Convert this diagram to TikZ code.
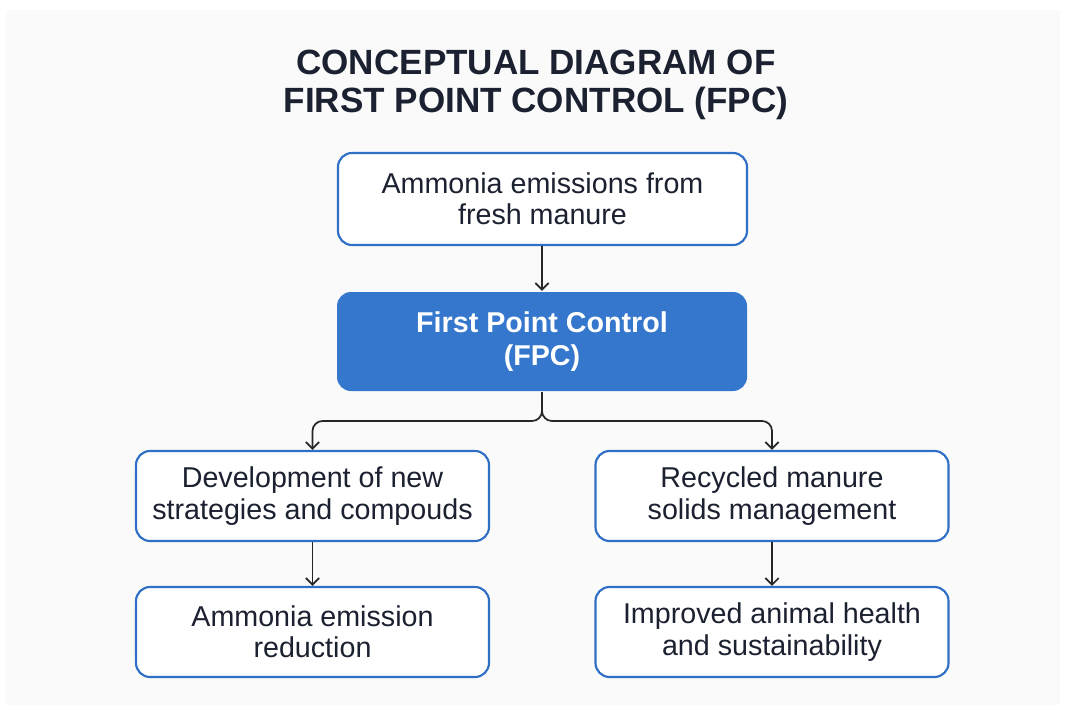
\documentclass[tikz,border=0pt]{standalone}
\usepackage{fontspec}
\setmainfont{Liberation Sans}
\usetikzlibrary{arrows.meta,calc}

\definecolor{fpcblue}{HTML}{3477CC}
\definecolor{edgeblue}{HTML}{2F6FC6}
\definecolor{inkdark}{HTML}{1B2130}
\definecolor{panel}{HTML}{FAFAFA}

\begin{document}
\begin{tikzpicture}[x=0.75pt,y=-0.75pt,
    box/.style={draw=edgeblue,line width=1.6pt,rounded corners=10.5pt,fill=white,
      align=center,inner sep=0pt,text=inkdark,
      font=\fontsize{21.5}{23.5}\selectfont},
    topbox/.style={box,minimum width=306.75pt,minimum height=69pt},
    sidebox/.style={box,minimum width=264.75pt,minimum height=67.5pt},
    fpcbox/.style={box,draw=none,fill=fpcblue,text=white,
      minimum width=307.5pt,minimum height=74.25pt,
      font=\fontsize{21.5}{24.5}\selectfont\bfseries},
    link/.style={draw=black!85,line width=1.3pt,
      -{Straight Barb[length=5pt,width=10pt]}}]
  % page and panel
  \fill[white] (0,0) rectangle (1066,713);
  \fill[panel] (6,10) rectangle (1060,705);
  % title
  \node[align=center,text=inkdark,font=\fontsize{26.3}{28.5}\selectfont\bfseries]
    (title) at (536,85) {CONCEPTUAL DIAGRAM OF\\FIRST POINT CONTROL (FPC)};
  % boxes
  \node[topbox] (ammonia) at (542.5,199) {Ammonia emissions from\\fresh manure};
  \node[fpcbox] (fpc) at (542,341.5) {First Point Control\\(FPC)};
  \node[sidebox] (strategies) at (312.5,496) {Development of new\\strategies and compouds};
  \node[sidebox] (recycled) at (772,496) {Recycled manure\\solids management};
  \node[sidebox] (reduction) at (312.5,632) {Ammonia emission\\reduction};
  \node[sidebox] (health) at (772,632) {Improved animal health\\and sustainability};
  % arrows
  \draw[link] (ammonia.south -| fpc.north) -- (fpc.north);
  \coordinate (split) at ($(fpc.south)!.5!(fpc.south |- strategies.north)$);
  \draw[link,rounded corners=7.5pt] (fpc.south) -- (split) -| (strategies.north);
  \draw[link,rounded corners=7.5pt] (fpc.south) -- (split) -| (recycled.north);
  \draw[link] (strategies) -- (reduction);
  \draw[link] (recycled) -- (health);
\end{tikzpicture}
\end{document}
